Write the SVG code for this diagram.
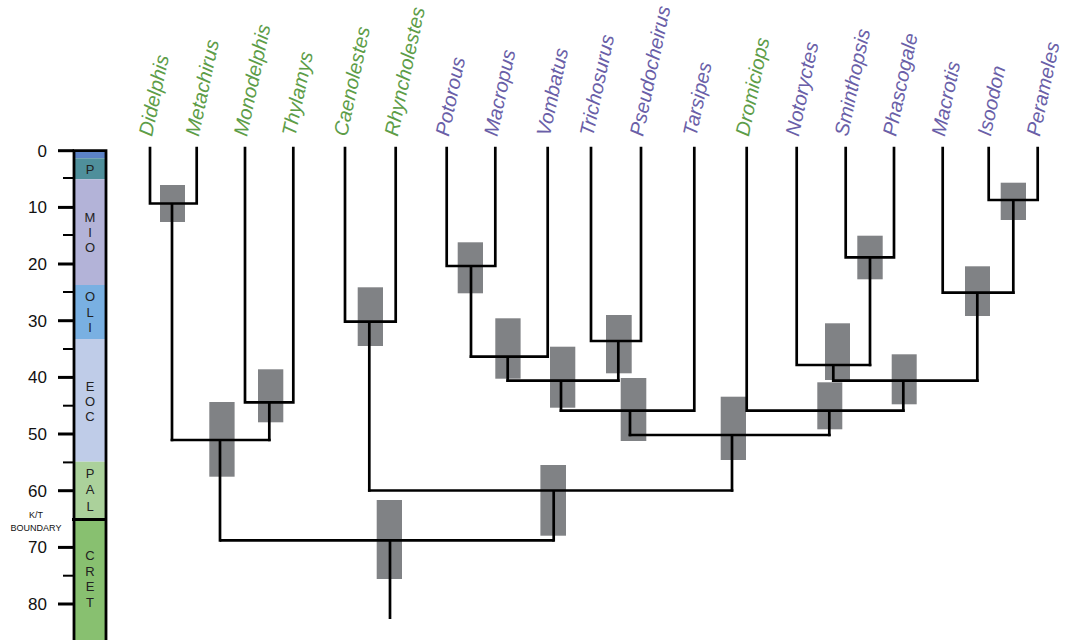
<svg xmlns="http://www.w3.org/2000/svg" width="1080" height="640" viewBox="0 0 1080 640">
<style>
.tipg{fill:#5d9d48}
.tipp{fill:#6a5fa8}
.tip{font-family:"Liberation Sans",Arial,sans-serif;font-style:italic;font-size:20px}
.ax{font-family:"Liberation Sans",Arial,sans-serif;font-size:17px;fill:#111;text-anchor:end}
.ep{font-family:"Liberation Sans",Arial,sans-serif;font-size:13px;fill:#222;text-anchor:middle}
.kt{font-family:"Liberation Sans",Arial,sans-serif;font-size:9px;fill:#111;text-anchor:middle}
.br{fill:none;stroke:#000;stroke-width:2.7;stroke-linejoin:miter;stroke-linecap:square}
.box{fill:#808285}
.tk{stroke:#000;stroke-width:3}
.tm{stroke:#000;stroke-width:2}
</style>
<rect width="1080" height="640" fill="#fff"/>
<g id="timescale">
<rect x="74" y="150.7" width="32" height="7.6" fill="#5b82c6"/>
<rect x="74" y="158.3" width="32" height="21" fill="#4f8f9b"/>
<rect x="74" y="179.3" width="32" height="105.7" fill="#b3b3d8"/>
<rect x="74" y="285" width="32" height="54" fill="#79b0e2"/>
<rect x="74" y="339" width="32" height="122.7" fill="#bfcce8"/>
<rect x="74" y="461.7" width="32" height="57.8" fill="#abd19b"/>
<rect x="74" y="519.5" width="32" height="120.5" fill="#88c070"/>
<path d="M74 640V150.7H106V640" fill="none" stroke="#000" stroke-width="2.8"/>
<line x1="72" y1="519.5" x2="107" y2="519.5" stroke="#000" stroke-width="3"/>
<g>
<line class="tk" x1="58" y1="150.7" x2="74" y2="150.7"/>
<line class="tk" x1="58" y1="207.4" x2="74" y2="207.4"/>
<line class="tk" x1="58" y1="264" x2="74" y2="264"/>
<line class="tk" x1="58" y1="320.7" x2="74" y2="320.7"/>
<line class="tk" x1="58" y1="377.4" x2="74" y2="377.4"/>
<line class="tk" x1="58" y1="434" x2="74" y2="434"/>
<line class="tk" x1="58" y1="490.7" x2="74" y2="490.7"/>
<line class="tk" x1="58" y1="547.4" x2="74" y2="547.4"/>
<line class="tk" x1="58" y1="604" x2="74" y2="604"/>
<line class="tm" x1="63" y1="178" x2="74" y2="178"/>
<line class="tm" x1="63" y1="235" x2="74" y2="235"/>
<line class="tm" x1="63" y1="292" x2="74" y2="292"/>
<line class="tm" x1="63" y1="349" x2="74" y2="349"/>
<line class="tm" x1="63" y1="405.7" x2="74" y2="405.7"/>
<line class="tm" x1="63" y1="462.4" x2="74" y2="462.4"/>
<line class="tm" x1="63" y1="575.7" x2="74" y2="575.7"/>
</g>
<text class="ax" x="47" y="156.7">0</text>
<text class="ax" x="47" y="213.4">10</text>
<text class="ax" x="47" y="270">20</text>
<text class="ax" x="47" y="326.7">30</text>
<text class="ax" x="47" y="383.4">40</text>
<text class="ax" x="47" y="440">50</text>
<text class="ax" x="47" y="496.7">60</text>
<text class="ax" x="47" y="553.4">70</text>
<text class="ax" x="47" y="610">80</text>
<text class="kt" x="36" y="518">K/T</text>
<text class="kt" x="36" y="530.5">BOUNDARY</text>
<text class="ep" x="90" y="174">P</text>
<text class="ep" x="90" y="221.5">M</text>
<text class="ep" x="90" y="236.5">I</text>
<text class="ep" x="90" y="251.5">O</text>
<text class="ep" x="90" y="300.5">O</text>
<text class="ep" x="90" y="316.5">L</text>
<text class="ep" x="90" y="331.5">I</text>
<text class="ep" x="90" y="390.5">E</text>
<text class="ep" x="90" y="405.5">O</text>
<text class="ep" x="90" y="420.5">C</text>
<text class="ep" x="90" y="477.5">P</text>
<text class="ep" x="90" y="493.5">A</text>
<text class="ep" x="90" y="510.5">L</text>
<text class="ep" x="90" y="559.5">C</text>
<text class="ep" x="90" y="575.5">R</text>
<text class="ep" x="90" y="590.5">E</text>
<text class="ep" x="90" y="606.5">T</text>
</g>
<g id="internal-nodes">
<rect id="n1" class="box" x="160" y="185" width="25" height="37"/>
<rect id="n2" class="box" x="258" y="369.3" width="25.3" height="53"/>
<rect id="n3" class="box" x="209.3" y="402" width="25.3" height="74.7"/>
<rect id="n4" class="box" x="357.7" y="287.3" width="25.3" height="58.7"/>
<rect id="n5" class="box" x="457.7" y="242.3" width="25.3" height="51"/>
<rect id="n6" class="box" x="495.3" y="318.3" width="25.3" height="60.4"/>
<rect id="n7" class="box" x="606" y="315" width="25.7" height="58.3"/>
<rect id="n8" class="box" x="550" y="346.7" width="25.3" height="61"/>
<rect id="n9" class="box" x="620.7" y="378" width="25.6" height="63"/>
<rect id="n10" class="box" x="857.3" y="235.7" width="25.4" height="43.6"/>
<rect id="n11" class="box" x="825" y="323.3" width="25" height="56.7"/>
<rect id="n12" class="box" x="1000.7" y="182.7" width="25.3" height="37.3"/>
<rect id="n13" class="box" x="965" y="266.3" width="25" height="49.7"/>
<rect id="n14" class="box" x="891.7" y="354.3" width="25" height="50"/>
<rect id="n15" class="box" x="817.3" y="382.3" width="25" height="47"/>
<rect id="n16" class="box" x="720.7" y="396.7" width="25.3" height="63.3"/>
<rect id="n17" class="box" x="540.4" y="465" width="25.6" height="70.7"/>
<rect id="n18" class="box" x="376.7" y="500" width="25.3" height="79"/>
</g>
<g id="connectors" class="br">
<path d="M150 148V203.5H196.7V148M172 203.5V440"/>
<path d="M245 148V402.3H293.3V148M269.3 402.3V440"/>
<path d="M172 440H269.3M220 440V540.3"/>
<path d="M345 148V321.7H395.7V148M369.3 321.7V490.5"/>
<path d="M446.7 148V266H495.3V148M471 266V356.7"/>
<path d="M471 356.7H547.7V148M507.7 356.7V380.7"/>
<path d="M591 148V341H641V148M618.3 341V380.7"/>
<path d="M507.7 380.7H618.3M561 380.7V410.7"/>
<path d="M561 410.7H694.3V148M630 410.7V435"/>
<path d="M845.7 148V257.3H894V148M870 257.3V365"/>
<path d="M796.7 148V365H870M833.3 365V380.7"/>
<path d="M988.7 148V200H1037.7V148M1013.3 200V292.7"/>
<path d="M942.7 148V292.7H1013.3M977.3 292.7V380.7"/>
<path d="M833.3 380.7H977.3M903.3 380.7V410.7"/>
<path d="M746.7 148V410.7H903.3M829.3 410.7V435"/>
<path d="M630 435H829.3M732 435V490.5"/>
<path d="M369.3 490.5H732M553.7 490.5V540.3"/>
<path d="M220 540.3H553.7M390 540.3V619" stroke-linecap="butt"/>
</g>
<g id="tips" class="tip">
<g id="t-didelphis"><text class="tipg" transform="translate(152 137) rotate(-78)">Didelphis</text></g>
<g id="t-metachirus"><text class="tipg" transform="translate(198.7 137) rotate(-78)">Metachirus</text></g>
<g id="t-monodelphis"><text class="tipg" transform="translate(247 137) rotate(-78)">Monodelphis</text></g>
<g id="t-thylamys"><text class="tipg" transform="translate(295.3 137) rotate(-78)">Thylamys</text></g>
<g id="t-caenolestes"><text class="tipg" transform="translate(347 137) rotate(-78)">Caenolestes</text></g>
<g id="t-rhyncholestes"><text class="tipg" transform="translate(397.7 137) rotate(-78)">Rhyncholestes</text></g>
<g id="t-potorous"><text class="tipp" transform="translate(448.7 137) rotate(-78)">Potorous</text></g>
<g id="t-macropus"><text class="tipp" transform="translate(497.3 137) rotate(-78)">Macropus</text></g>
<g id="t-vombatus"><text class="tipp" transform="translate(549.7 137) rotate(-78)">Vombatus</text></g>
<g id="t-trichosurus"><text class="tipp" transform="translate(593 137) rotate(-78)">Trichosurus</text></g>
<g id="t-pseudocheirus"><text class="tipp" transform="translate(643 137) rotate(-78)">Pseudocheirus</text></g>
<g id="t-tarsipes"><text class="tipp" transform="translate(696.3 137) rotate(-78)">Tarsipes</text></g>
<g id="t-dromiciops"><text class="tipg" transform="translate(748.7 137) rotate(-78)">Dromiciops</text></g>
<g id="t-notoryctes"><text class="tipp" transform="translate(798.7 137) rotate(-78)">Notoryctes</text></g>
<g id="t-sminthopsis"><text class="tipp" transform="translate(847.7 137) rotate(-78)">Sminthopsis</text></g>
<g id="t-phascogale"><text class="tipp" transform="translate(896 137) rotate(-78)">Phascogale</text></g>
<g id="t-macrotis"><text class="tipp" transform="translate(944.7 137) rotate(-78)">Macrotis</text></g>
<g id="t-isoodon"><text class="tipp" transform="translate(990.7 137) rotate(-78)">Isoodon</text></g>
<g id="t-perameles"><text class="tipp" transform="translate(1039.7 137) rotate(-78)">Perameles</text></g>
</g>
</svg>
